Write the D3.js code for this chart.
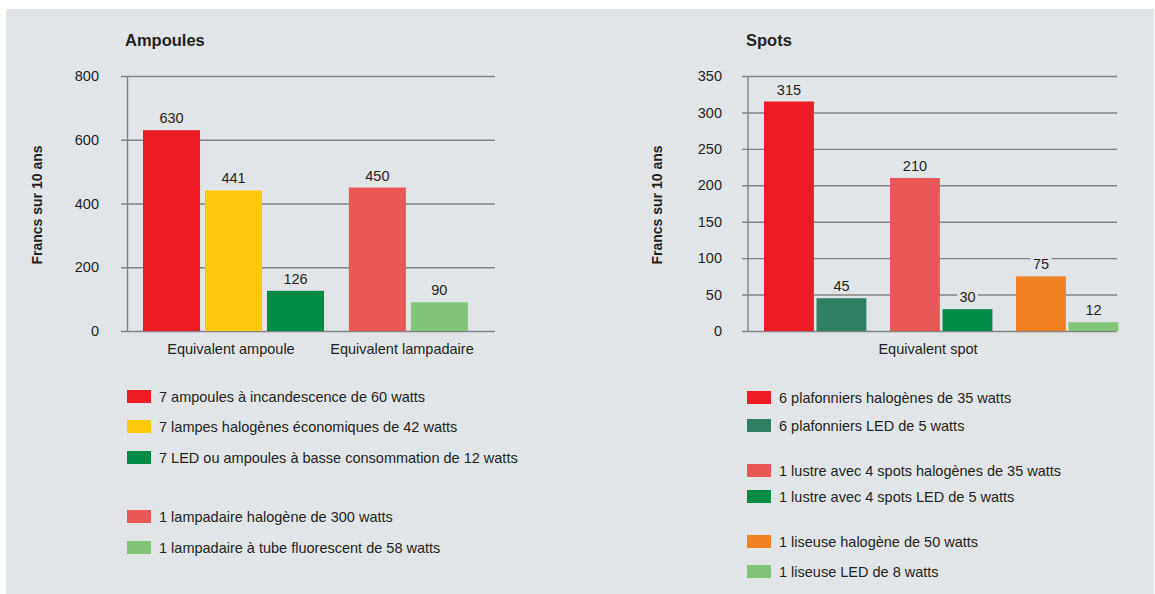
<!DOCTYPE html>
<html>
<head>
<meta charset="utf-8">
<script src="https://cdn.jsdelivr.net/npm/d3@7"></script>
<style>
  html, body { margin: 0; padding: 0; background: #ffffff; }
  svg text { font-family: "Liberation Sans", Arial, Helvetica, sans-serif; fill: #231f20; }
</style>
</head>
<body>
<div id="chart"></div>
<script>
// Ampoules chart data
const ampouleCategories = ['Equivalent ampoule', 'Equivalent lampadaire'];
const ampouleLabels = [
    '7 ampoules à incandescence de 60 watts',
    '7 lampes halogènes économiques de 42 watts',
    '7 LED ou ampoules à basse consommation de 12 watts',
    '1 lampadaire halogène de 300 watts',
    '1 lampadaire à tube fluorescent de 58 watts'
];
const ampouleValues = [630, 441, 126, 450, 90];
const ampouleGroups = [0, 0, 0, 1, 1];
const ampouleTicks = [0, 200, 400, 600, 800];

// Spots chart data
const spotCategories = ['Equivalent spot'];
const spotLabels = [
    '6 plafonniers halogènes de 35 watts',
    '6 plafonniers LED de 5 watts',
    '1 lustre avec 4 spots halogènes de 35 watts',
    '1 lustre avec 4 spots LED de 5 watts',
    '1 liseuse halogène de 50 watts',
    '1 liseuse LED de 8 watts'
];
const spotValues = [315, 45, 210, 30, 75, 12];
const spotGroups = [0, 0, 1, 1, 2, 2];
const spotTicks = [0, 50, 100, 150, 200, 250, 300, 350];

// Colours
const ampouleColors = ['#ed1c24', '#ffc90b', '#008c44', '#e95757', '#80c576'];
const spotColors = ['#ed1c24', '#2e7f63', '#e95757', '#008c44', '#f28122', '#80c576'];
const bg_color = '#e2e5e8';
const grid_color = '#808285';

const width = 1155, height = 594;

const svg = d3.select('#chart').append('svg')
    .attr('width', width)
    .attr('height', height);

// Grey panel
svg.append('rect')
    .attr('x', 6).attr('y', 9)
    .attr('width', 1148).attr('height', height - 9)
    .attr('fill', bg_color);

function drawChart(cfg) {
    const g = svg.append('g');

    // Title
    g.append('text')
        .attr('x', cfg.titleX).attr('y', 46)
        .style('font-size', '16.5px').style('font-weight', 'bold')
        .text(cfg.title);

    // y scale
    const yScale = d3.scaleLinear()
        .domain([0, d3.max(cfg.ticks)])
        .range([331, 76]);

    // x scale over slot units (group gap inserted between groups)
    const slots = cfg.values.map((v, i) => i + cfg.groups[i] * cfg.gap);
    const xScale = d3.scaleLinear()
        .domain([0, 1])
        .range([cfg.barStart, cfg.barStart + cfg.pitch]);
    const barW = xScale(cfg.barFrac) - xScale(0);

    // Gridlines + tick labels
    const axis = g.append('g')
        .attr('transform', `translate(${cfg.gridStart}, 0)`)
        .call(d3.axisLeft(yScale)
            .tickValues(cfg.ticks)
            .tickSizeInner(-(cfg.gridEnd - cfg.gridStart))
            .tickSizeOuter(0)
            .tickPadding(cfg.gridStart - cfg.labelRight));
    axis.select('.domain').remove();
    axis.selectAll('.tick line')
        .attr('stroke', grid_color)
        .attr('stroke-width', 1.4);
    axis.selectAll('.tick text')
        .style('font-size', '14.5px')
        .attr('fill', '#231f20')
        .style('font-family', '"Liberation Sans", Arial, sans-serif');

    // Vertical axis line
    g.append('line')
        .attr('x1', cfg.axisX).attr('x2', cfg.axisX)
        .attr('y1', yScale(d3.max(cfg.ticks))).attr('y2', yScale(0))
        .attr('stroke', grid_color)
        .attr('stroke-width', 1.4);

    // Bars
    g.selectAll('.bar')
        .data(cfg.values)
        .enter().append('rect')
        .attr('class', 'bar')
        .attr('x', (d, i) => xScale(slots[i]))
        .attr('y', d => yScale(d))
        .attr('width', barW)
        .attr('height', d => yScale(0) - yScale(d))
        .attr('fill', (d, i) => cfg.colors[i]);

    // Value labels with background to mask gridlines
    const lbl = g.selectAll('.val')
        .data(cfg.values)
        .enter().append('g')
        .attr('class', 'val')
        .attr('transform', (d, i) => `translate(${xScale(slots[i]) + barW / 2}, ${yScale(d) - 7})`);
    lbl.append('rect')
        .attr('x', d => -String(d).length * 4.2 - 2)
        .attr('y', -12)
        .attr('width', d => String(d).length * 8.4 + 4)
        .attr('height', 14)
        .attr('fill', bg_color);
    lbl.append('text')
        .attr('text-anchor', 'middle')
        .style('font-size', '14.5px')
        .text(d => d);

    // Category labels
    g.selectAll('.cat')
        .data(cfg.categories)
        .enter().append('text')
        .attr('class', 'cat')
        .attr('x', (c, k) => cfg.catX[k])
        .attr('y', 354)
        .attr('text-anchor', 'middle')
        .style('font-size', '14.5px')
        .text(c => c);

    // y axis title
    g.append('text')
        .attr('transform', `translate(${cfg.yTitleX}, 205) rotate(-90)`)
        .attr('text-anchor', 'middle')
        .style('font-size', '14px').style('font-weight', 'bold')
        .text('Francs sur 10 ans');

    // Legend
    const leg = g.selectAll('.leg')
        .data(cfg.labels)
        .enter().append('g')
        .attr('class', 'leg')
        .attr('transform', (d, i) => `translate(${cfg.legendX}, ${cfg.legendY[i]})`);
    leg.append('rect')
        .attr('x', 0).attr('y', -6.5)
        .attr('width', 24).attr('height', 13)
        .attr('fill', (d, i) => cfg.colors[i]);
    leg.append('text')
        .attr('x', 32).attr('y', 5)
        .style('font-size', '14.5px')
        .text(d => d);
}

drawChart({
    title: 'Ampoules', titleX: 125,
    categories: ampouleCategories, labels: ampouleLabels,
    values: ampouleValues, groups: ampouleGroups, ticks: ampouleTicks, colors: ampouleColors,
    gap: 0.32, barStart: 143, pitch: 62, barFrac: 0.92,
    gridStart: 121, gridEnd: 495, axisX: 127.5, labelRight: 99,
    catX: [231, 402], yTitleX: 42,
    legendX: 127, legendY: [396.5, 426.5, 457.5, 516.5, 547.5]
});

drawChart({
    title: 'Spots', titleX: 746,
    categories: spotCategories, labels: spotLabels,
    values: spotValues, groups: spotGroups, ticks: spotTicks, colors: spotColors,
    gap: 0.4, barStart: 764, pitch: 52.5, barFrac: 0.95,
    gridStart: 742, gridEnd: 1117, axisX: 748, labelRight: 722,
    catX: [928], yTitleX: 662,
    legendX: 747, legendY: [397.5, 425.5, 470.5, 496.5, 541.5, 571.5]
});
</script>
</body>
</html>
